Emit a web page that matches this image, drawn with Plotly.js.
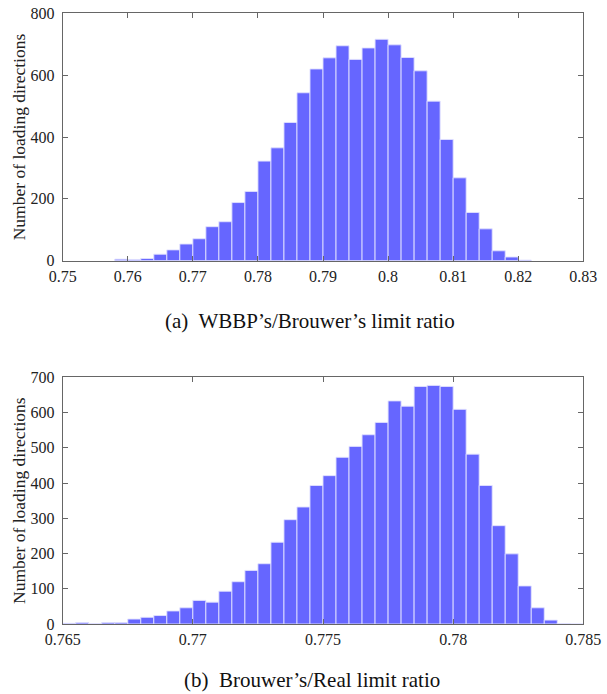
<!DOCTYPE html>
<html>
<head>
<meta charset="utf-8">
<script src="https://cdn.plot.ly/plotly-3.0.1.min.js"></script>
<style>html,body{margin:0;padding:0;background:#fff;}#chart{width:607px;height:694px;}</style>
</head>
<body>
<div id="chart"></div>
<script>
// (a) WBBP's/Brouwer's limit ratio — bin left edges (width 0.002) and counts
const binWidthA = 0.002;
const binLeftA = [0.758,0.760,0.762,0.764,0.766,0.768,0.770,0.772,0.774,0.776,0.778,0.780,0.782,0.784,0.786,0.788,
                  0.790,0.792,0.794,0.796,0.798,0.800,0.802,0.804,0.806,0.808,0.810,0.812,0.814,0.816,0.818,0.820];
const countsA = [5,4,7,21,35,54,71,110,126,188,224,322,365,447,543,620,
                 656,695,651,688,716,698,657,614,516,392,268,156,103,32,12,2];
const xTicksA = [0.75,0.76,0.77,0.78,0.79,0.8,0.81,0.82,0.83];
const yTicksA = [0,200,400,600,800];

// (b) Brouwer's/Real limit ratio — bin left edges (width 0.0005) and counts
const binWidthB = 0.0005;
const binLeftB = [0.7650,0.7655,0.7660,0.7665,0.7670,0.7675,0.7680,0.7685,0.7690,0.7695,
                  0.7700,0.7705,0.7710,0.7715,0.7720,0.7725,0.7730,0.7735,0.7740,0.7745,
                  0.7750,0.7755,0.7760,0.7765,0.7770,0.7775,0.7780,0.7785,0.7790,0.7795,
                  0.7800,0.7805,0.7810,0.7815,0.7820,0.7825,0.7830,0.7835,0.7840,0.7845];
const countsB = [2,4,1,4,4,14,19,24,37,46,
                 67,62,93,120,152,171,232,296,332,393,
                 421,473,504,537,572,633,618,674,677,674,
                 609,482,393,279,199,108,46,11,1,0];
const xTicksB = [0.765,0.77,0.775,0.78,0.785];
const yTicksB = [0,100,200,300,400,500,600,700];

const captionA = "(a)  WBBP’s/Brouwer’s limit ratio";
const captionB = "(b)  Brouwer’s/Real limit ratio";
const yTitle = "Number of loading directions";

const serif = "Liberation Serif";
const barColor = "#6666ff";
const edgeColor = "rgba(225,225,255,0.9)";
const axisGray = "#666666";

function centers(lefts, w){ return lefts.map(v => v + w/2); }

const traces = [
  {type:'bar', x: centers(binLeftA, binWidthA), y: countsA, width: binWidthA,
   marker:{color:barColor, line:{color:edgeColor, width:1}}, xaxis:'x', yaxis:'y', hoverinfo:'x+y'},
  {type:'bar', x: centers(binLeftB, binWidthB), y: countsB, width: binWidthB,
   marker:{color:barColor, line:{color:edgeColor, width:1}}, xaxis:'x2', yaxis:'y2', hoverinfo:'x+y'}
];

const W = 607, H = 694;
const xDom = [62.7/W, 583.3/W];
const axisCommon = {
  showline:true, linecolor:axisGray, linewidth:1, mirror:'ticks',
  ticks:'inside', ticklen:5, tickcolor:axisGray, tickwidth:1,
  showgrid:false, zeroline:false, fixedrange:true,
  tickfont:{family:serif, size:16, color:'#222'}
};
const titleFont = {family:serif, size:17.5, color:'#222'};

const layout = {
  width:W, height:H,
  margin:{l:0, r:0, t:0, b:0},
  paper_bgcolor:'#fff', plot_bgcolor:'#fff',
  showlegend:false, bargap:0,
  font:{family:serif, color:'#222'},
  xaxis: Object.assign({}, axisCommon, {domain:xDom, anchor:'y', range:[0.75,0.83], tickvals:xTicksA, ticklabelstandoff:1}),
  yaxis: Object.assign({}, axisCommon, {domain:[1-260.7/H, 1-13.3/H], anchor:'x', range:[0,800], tickvals:yTicksA, ticklabelstandoff:4,
         title:{text:yTitle, font:titleFont, standoff:0}}),
  xaxis2: Object.assign({}, axisCommon, {domain:xDom, anchor:'y2', range:[0.765,0.785], tickvals:xTicksB, ticklabelstandoff:1}),
  yaxis2: Object.assign({}, axisCommon, {domain:[1-624/H, 1-377.3/H], anchor:'x2', range:[0,700], tickvals:yTicksB, ticklabelstandoff:4,
         title:{text:yTitle, font:titleFont, standoff:0}}),
  annotations:[
    {text:captionA, xref:'paper', yref:'paper', x:310/W, y:1-321/H, xanchor:'center', yanchor:'middle', showarrow:false,
     font:{family:serif, size:21, color:'#111'}},
    {text:captionB, xref:'paper', yref:'paper', x:312/W, y:1-680/H, xanchor:'center', yanchor:'middle', showarrow:false,
     font:{family:serif, size:21, color:'#111'}}
  ]
};

Plotly.newPlot('chart', traces, layout, {displayModeBar:false, staticPlot:true});
</script>
</body>
</html>
